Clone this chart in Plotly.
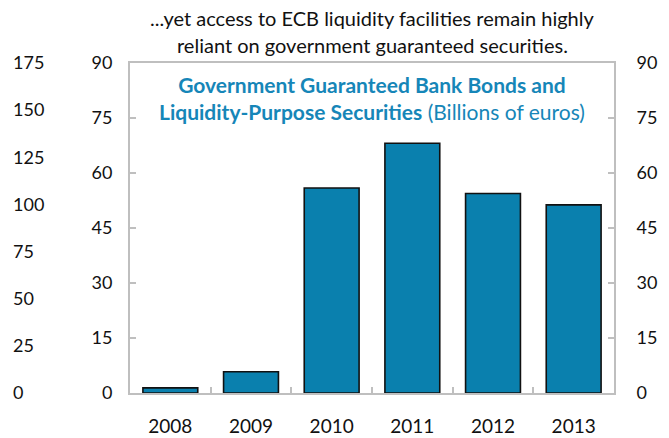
import plotly.graph_objects as go

years = ["2008", "2009", "2010", "2011", "2012", "2013"]
values = [1.4, 5.8, 55.9, 68.1, 54.4, 51.3]
inner_ticks = [0, 15, 30, 45, 60, 75, 90]
outer_ticks = [0, 25, 50, 75, 100, 125, 150, 175]
title_lines = ["...yet access to ECB liquidity facilities remain highly",
               "reliant on government guaranteed securities."]

W, H = 669, 438
ML, MR, MT, MB = 0, 55, 63, 45
plot_left = 130
dom0 = (plot_left - ML) / (W - ML - MR)

FONT = "Lato"
BAR = "#0a80ae"
TXT_BLUE = "#1686b8"
AX = "#bfbfbf"

fig = go.Figure()
fig.add_trace(go.Bar(
    x=years, y=values, width=0.68,
    marker=dict(color=BAR, line=dict(color="#111111", width=1.6)),
    xaxis="x", yaxis="y", showlegend=False, hoverinfo="x+y",
))
# invisible traces to activate the extra axes
fig.add_trace(go.Scatter(x=[years[0]], y=[None], yaxis="y2", xaxis="x", mode="lines",
                         showlegend=False, hoverinfo="skip"))
fig.add_trace(go.Scatter(x=[years[0]], y=[None], yaxis="y3", xaxis="x", mode="lines",
                         showlegend=False, hoverinfo="skip"))

tickfont = dict(family=FONT, size=18, color="#111111")

fig.update_layout(
    width=W, height=H,
    margin=dict(l=ML, r=MR, t=MT, b=MB, autoexpand=False),
    plot_bgcolor="white", paper_bgcolor="white",
    xaxis=dict(
        domain=[dom0, 1], type="category", range=[-0.5, len(years) - 0.5],
        showline=True, linecolor=AX, linewidth=2, mirror=True,
        ticks="inside", tickson="boundaries", ticklen=6, tickcolor=AX, tickwidth=1.5,
        tickfont=dict(family=FONT, size=19, color="#111111"),
        showgrid=False, zeroline=False, ticklabelstandoff=15,
    ),
    yaxis=dict(
        range=[0, 90], tickvals=inner_ticks, side="left", anchor="x",
        showline=True, linecolor=AX, linewidth=2,
        ticks="inside", ticklen=6, tickcolor=AX, tickwidth=1.5,
        tickfont=tickfont, showgrid=False, zeroline=False, ticklabelstandoff=12,
    ),
    yaxis2=dict(
        range=[0, 90], tickvals=inner_ticks, side="right", overlaying="y", anchor="x",
        showline=True, linecolor=AX, linewidth=2,
        ticks="inside", ticklen=6, tickcolor=AX, tickwidth=1.5,
        tickfont=tickfont, showgrid=False, zeroline=False, ticklabelstandoff=17,
    ),
    yaxis3=dict(
        range=[0, 175], tickvals=outer_ticks, side="right", overlaying="y", anchor="free",
        position=0, showline=False, ticks="",
        tickfont=tickfont, showgrid=False, zeroline=False, ticklabelstandoff=12,
    ),
    annotations=[
        dict(xref="x domain", yref="paper", x=0.5, y=1, yshift=MT - 18, yanchor="middle",
             showarrow=False, align="center", text=title_lines[0],
             font=dict(family=FONT, size=20, color="#111111")),
        dict(xref="x domain", yref="paper", x=0.5, y=1, yshift=MT - 45, yanchor="middle",
             showarrow=False, align="center", text=title_lines[1],
             font=dict(family=FONT, size=20, color="#111111")),
        dict(xref="x domain", yref="y domain", x=0.5, y=1, yshift=-7, yanchor="top",
             showarrow=False, align="center",
             text="<b>Government Guaranteed Bank Bonds and</b><br><b>Liquidity-Purpose Securities</b> (Billions of euros)",
             font=dict(family=FONT, size=21, color=TXT_BLUE)),
    ],
)

fig.write_html("out.html", config={"displayModeBar": False})

# remove the default page margin so the figure sits at the window's top-left corner
with open("out.html", "r", encoding="utf-8") as f:
    html = f.read()
html = html.replace("<head>", "<head><style>html,body{margin:0;padding:0;overflow:hidden;}</style>", 1)
with open("out.html", "w", encoding="utf-8") as f:
    f.write(html)
